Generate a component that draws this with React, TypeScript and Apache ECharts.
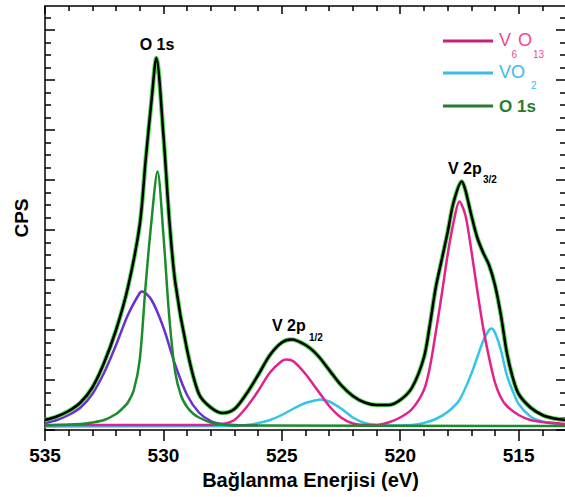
import { useEffect, useRef } from "react";
import * as echarts from "echarts";

// Binding energy (eV) vs CPS (arbitrary units; 1 unit = one major y tick)
const measuredCps: [number, number][] = [
  [535, 0.2], [534.5, 0.27], [534, 0.38], [533.5, 0.55], [533, 0.85], [532.5, 1.35],
  [532, 2.0], [531.5, 2.85], [531, 4.1], [530.75, 5.4], [530.5, 6.6], [530.3, 7.44],
  [530.0, 5.9], [529.75, 4.2], [529.5, 2.95], [529, 1.6], [528.5, 0.72], [528, 0.45],
  [527.5, 0.34], [527, 0.42], [526.5, 0.72], [526, 1.1], [525.5, 1.5], [525, 1.75],
  [524.6, 1.81], [524, 1.7], [523.5, 1.5], [523, 1.2], [522.5, 0.9], [522, 0.68],
  [521.5, 0.55], [521, 0.5], [520.5, 0.5], [520, 0.6], [519.5, 0.85], [519, 1.45],
  [518.75, 2.1], [518.5, 2.85], [518.25, 3.4], [518, 3.95], [517.75, 4.55], [517.4, 4.97],
  [517.25, 4.8], [517, 4.3], [516.75, 3.85], [516.5, 3.55], [516.25, 3.3], [516, 2.9],
  [515.75, 2.3], [515.5, 1.55], [515.25, 1.05], [515, 0.72], [514.5, 0.45], [514, 0.3],
  [513.5, 0.23], [513, 0.2],
];

const o1sComponent: [number, number][] = [
  [535, 0.09], [533.5, 0.12], [533, 0.15], [532.5, 0.2], [532, 0.32], [531.75, 0.42],
  [531.5, 0.55], [531.25, 0.8], [531, 1.4], [530.75, 2.9], [530.5, 4.2], [530.25, 5.17],
  [530, 3.9], [529.75, 2.25], [529.5, 1.15], [529.25, 0.68], [529, 0.46], [528.75, 0.33],
  [528.5, 0.25], [528, 0.15], [527.5, 0.11], [527, 0.09], [513, 0.08],
];

const purpleComponent: [number, number][] = [
  [535, 0.14], [534.5, 0.2], [534, 0.3], [533.5, 0.45], [533, 0.72], [532.5, 1.15],
  [532, 1.7], [531.5, 2.3], [531, 2.74], [530.9, 2.77], [530.5, 2.6], [530, 2.05],
  [529.5, 1.3], [529, 0.7], [528.5, 0.35], [528, 0.18], [527.5, 0.12], [527, 0.1], [526, 0.09],
];

const v6o13Component: [number, number][] = [
  [535, 0.1], [528, 0.1], [527.5, 0.12], [527, 0.2], [526.5, 0.45], [526, 0.78],
  [525.5, 1.15], [525, 1.38], [524.8, 1.41], [524.5, 1.37], [524, 1.12], [523.5, 0.8],
  [523, 0.48], [522.5, 0.25], [522, 0.13], [521.5, 0.1], [521, 0.1], [520.5, 0.15],
  [520, 0.25], [519.5, 0.42], [519, 0.8], [518.75, 1.25], [518.5, 1.95], [518.25, 2.7],
  [518, 3.5], [517.75, 4.15], [517.5, 4.57], [517.25, 4.3], [517, 3.6], [516.75, 2.8],
  [516.5, 2.05], [516.25, 1.45], [516, 0.95], [515.75, 0.65], [515.5, 0.48], [515, 0.3],
  [514.5, 0.2], [514, 0.16], [513, 0.12],
];

const vo2Component: [number, number][] = [
  [535, 0.07], [527, 0.08], [526.5, 0.1], [526, 0.14], [525.5, 0.2], [525, 0.3],
  [524.5, 0.43], [524, 0.54], [523.5, 0.6], [523.4, 0.61], [523, 0.57], [522.5, 0.43],
  [522, 0.25], [521.5, 0.14], [521, 0.1], [520, 0.09], [519.5, 0.1], [519, 0.14],
  [518.5, 0.22], [518, 0.36], [517.5, 0.6], [517, 1.12], [516.75, 1.45], [516.5, 1.78],
  [516.25, 2.0], [516.15, 2.03], [516, 1.95], [515.75, 1.6], [515.5, 1.1], [515.25, 0.78],
  [515, 0.52], [514.5, 0.27], [514, 0.17], [513.5, 0.13], [513, 0.11],
];

const xMajorTicks = [515, 520, 525, 530, 535];
const xMinorTicks = [514, 516, 517, 518, 519, 521, 522, 523, 524, 526, 527, 528, 529, 531, 532, 533, 534];
const yMajorTicks = [0, 1, 2, 3, 4, 5, 6, 7, 8];
const yMinorTicks = [
  0.25, 0.5, 0.75, 1.25, 1.5, 1.75, 2.25, 2.5, 2.75, 3.25, 3.5, 3.75, 4.25, 4.5, 4.75,
  5.25, 5.5, 5.75, 6.25, 6.5, 6.75, 7.25, 7.5, 7.75, 8.25,
];

const X_MIN = 513;
const X_MAX = 535;
const Y_MIN = 0;
const Y_MAX = 8.48;

const FONT = "'Liberation Sans', Arial, sans-serif";

export default function App() {
  const ref = useRef<HTMLDivElement>(null);

  useEffect(() => {
    if (!ref.current) return;
    const chart = echarts.init(ref.current, null, { renderer: "svg" });

    const baseX = {
      type: "value",
      min: X_MIN,
      max: X_MAX,
      inverse: true,
      splitLine: { show: false },
    };
    const baseY = {
      type: "value",
      min: Y_MIN,
      max: Y_MAX,
      splitLine: { show: false },
      axisLabel: { show: false },
    };
    const axisLineStyle = { color: "#000", width: 1.5 };

    const lineSeries = (name: string, data: [number, number][], color: string, width: number, z: number) => ({
      name,
      type: "line",
      data,
      smooth: 0.3,
      showSymbol: false,
      symbol: "none",
      lineStyle: { color, width },
      z,
    });

    const txt = (x: number, y: number, text: string, fill: string, size: number, weight: string, align = "left") => ({
      type: "text",
      x,
      y,
      style: {
        text,
        fill,
        fontSize: size,
        fontWeight: weight,
        fontFamily: FONT,
        textAlign: align,
        textVerticalAlign: "middle",
      },
    });

    chart.setOption({
      animation: false,
      backgroundColor: "#fff",
      grid: { left: 45, right: -1, top: 6, bottom: 67, containLabel: false, outerBoundsMode: "none" },
      xAxis: [
        {
          ...baseX,
          position: "bottom",
          axisLine: { show: true, onZero: false, lineStyle: axisLineStyle },
          axisTick: { show: true, inside: false, length: 11, customValues: xMajorTicks, lineStyle: axisLineStyle },
          axisLabel: {
            show: true,
            customValues: xMajorTicks,
            fontSize: 19,
            fontWeight: "bold",
            color: "#000",
            fontFamily: FONT,
            margin: 16,
          },
          name: "Bağlanma Enerjisi (eV)",
          nameLocation: "middle",
          nameGap: 38,
          nameTextStyle: { fontSize: 20, fontWeight: "bold", color: "#000", fontFamily: FONT, padding: [0, 0, 0, 10] },
        },
        {
          ...baseX,
          position: "bottom",
          axisLine: { show: false, onZero: false },
          axisTick: { show: true, inside: false, length: 6, customValues: xMinorTicks, lineStyle: axisLineStyle },
          axisLabel: { show: false },
        },
        {
          ...baseX,
          position: "top",
          axisLine: { show: true, onZero: false, lineStyle: axisLineStyle },
          axisTick: { show: true, inside: true, length: 8, customValues: xMajorTicks, lineStyle: axisLineStyle },
          axisLabel: { show: false },
        },
        {
          ...baseX,
          position: "top",
          axisLine: { show: false, onZero: false },
          axisTick: { show: true, inside: true, length: 5, customValues: xMinorTicks, lineStyle: axisLineStyle },
          axisLabel: { show: false },
        },
      ],
      yAxis: [
        {
          ...baseY,
          position: "left",
          axisLine: { show: true, onZero: false, lineStyle: axisLineStyle },
          axisTick: { show: true, inside: true, length: 10, customValues: yMajorTicks, lineStyle: axisLineStyle },
          name: "CPS",
          nameLocation: "middle",
          nameGap: 14,
          nameTextStyle: { fontSize: 19, fontWeight: "bold", color: "#000", fontFamily: FONT },
        },
        {
          ...baseY,
          position: "left",
          axisLine: { show: false, onZero: false },
          axisTick: { show: true, inside: true, length: 6, customValues: yMinorTicks, lineStyle: axisLineStyle },
        },
        {
          ...baseY,
          position: "right",
          axisLine: { show: true, onZero: false, lineStyle: axisLineStyle },
          axisTick: { show: true, inside: true, length: 10, customValues: yMajorTicks, lineStyle: axisLineStyle },
        },
        {
          ...baseY,
          position: "right",
          axisLine: { show: false, onZero: false },
          axisTick: { show: true, inside: true, length: 6, customValues: yMinorTicks, lineStyle: axisLineStyle },
        },
      ],
      series: [
        lineSeries("VO2", vo2Component, "#35c3ea", 2.5, 2),
        lineSeries("V6O13", v6o13Component, "#e2218a", 2.5, 3),
        lineSeries("O 1s (2)", purpleComponent, "#6a30d0", 2.5, 2),
        lineSeries("O 1s", o1sComponent, "#1b8c2c", 2.5, 3),
        lineSeries("Fit", measuredCps, "#55d655", 4.5, 4),
        lineSeries("Measured", measuredCps, "#000000", 2.5, 5),
      ],
      graphic: [
        // peak annotations
        txt(157, 44, "O 1s", "#000", 16, "bold", "center"),
        txt(272, 325, "V 2p", "#000", 16, "bold"),
        txt(309, 337, "1/2", "#000", 10, "bold"),
        txt(448, 168, "V 2p", "#000", 16, "bold"),
        txt(483, 179, "3/2", "#000", 10, "bold"),
        // legend
        { type: "line", shape: { x1: 443, y1: 41, x2: 493, y2: 41 }, style: { stroke: "#c8207a", lineWidth: 3 } },
        { type: "line", shape: { x1: 443, y1: 73, x2: 493, y2: 73 }, style: { stroke: "#38bde6", lineWidth: 3 } },
        { type: "line", shape: { x1: 443, y1: 106, x2: 493, y2: 106 }, style: { stroke: "#2a7a2e", lineWidth: 3 } },
        txt(499, 40, "V", "#ea4a9c", 18, "normal"),
        txt(511.5, 54, "6", "#ea4a9c", 10, "normal"),
        txt(518, 40, "O", "#ea4a9c", 18, "normal"),
        txt(533, 54, "13", "#ea4a9c", 10, "normal"),
        txt(499, 72, "VO", "#38bde6", 18, "normal"),
        txt(531, 85, "2", "#38bde6", 10, "normal"),
        txt(499, 106, "O 1s", "#2a7a2e", 17, "bold"),
      ],
    });

    return () => chart.dispose();
  }, []);

  return (
    <div
      ref={ref}
      style={{ position: "fixed", left: 0, top: 0, width: 565, height: 497, background: "#fff" }}
    />
  );
}
